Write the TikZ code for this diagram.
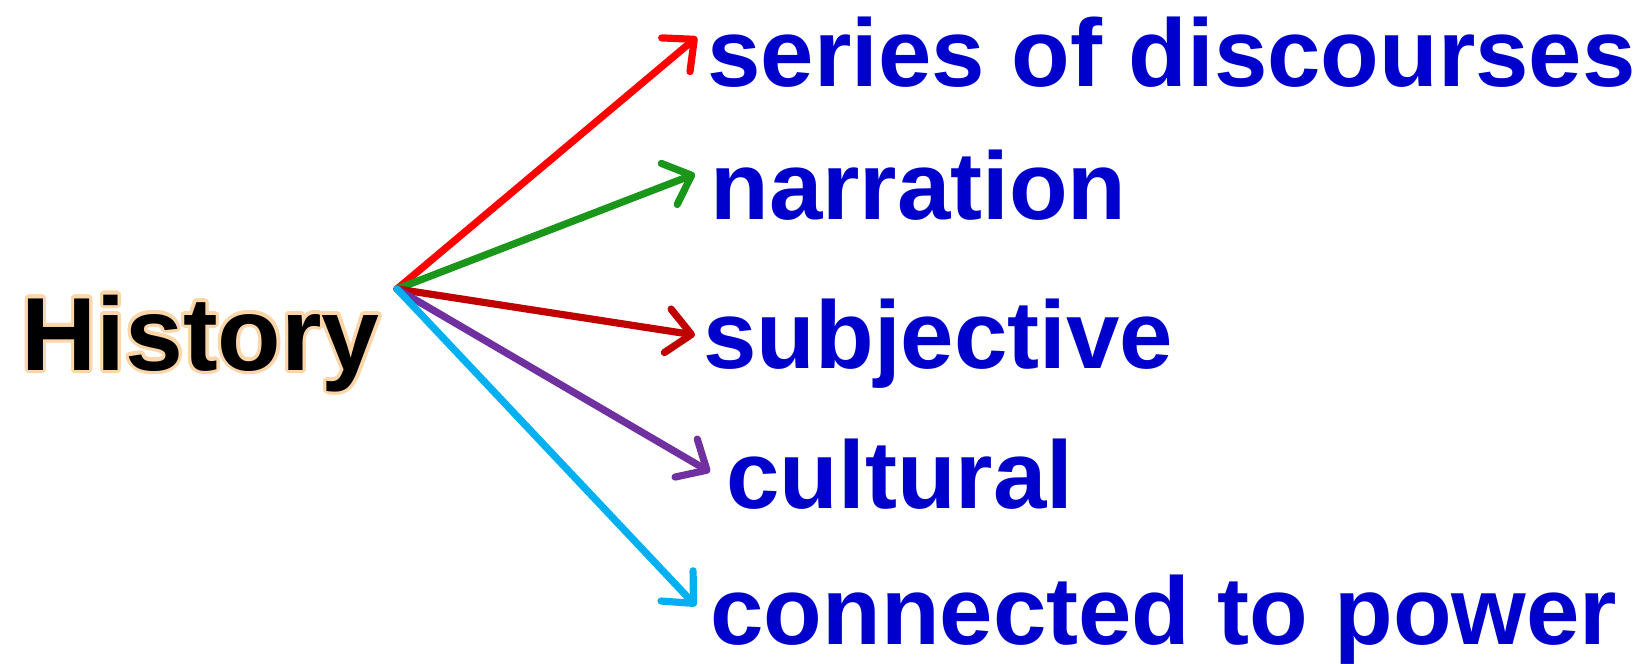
\documentclass[tikz,border=0pt]{standalone}
\usepackage{fontspec}
\setmainfont{Liberation Sans}
\usepackage{contour}
\contourlength{1.6pt}
\contournumber{32}
\usetikzlibrary{arrows.meta}
\definecolor{ink}{HTML}{0000CC}
\definecolor{glow}{HTML}{FCD6A8}
\definecolor{cRed}{HTML}{FF0000}
\definecolor{cGreen}{HTML}{1A961A}
\definecolor{cDark}{HTML}{C00000}
\definecolor{cPurple}{HTML}{7030A0}
\definecolor{cCyan}{HTML}{00B0F0}
\tikzset{
  lbl/.style={anchor=base west,inner sep=0pt,text=ink,font=\fontsize{48}{50}\selectfont\bfseries},
  title/.style={anchor=base west,inner sep=0pt,font=\fontsize{52}{54}\selectfont\bfseries},
  arr/.style={line width=3.6pt,line cap=round,-{Straight Barb[length=12pt,width=22pt,round]}},
}
\begin{document}
\begin{tikzpicture}[x=0.5pt,y=-0.5pt]
  \useasboundingbox (0,0) rectangle (1650,664);
  \node[title] (hist) at (21,370) {\contour{glow}{History}};
  \coordinate (hub) at (397,289);
  \foreach \n/\c/\x/\y/\tx/\ty/\t in {
    a/cRed/707/86/697/37/{series of discourses},
    b/cGreen/710/219/695/174/{narration},
    c/cDark/703/368/695/335/{subjective},
    d/cPurple/726/508/710/472/{cultural},
    e/cCyan/710/644/696/606/{connected to power}}
  {
    \node[lbl] (\n) at (\x,\y) {\t};
    \coordinate (\n tip) at (\tx,\ty);
    \draw[arr,draw=\c] (hub) -- (\n tip);
  }
\end{tikzpicture}
\end{document}
